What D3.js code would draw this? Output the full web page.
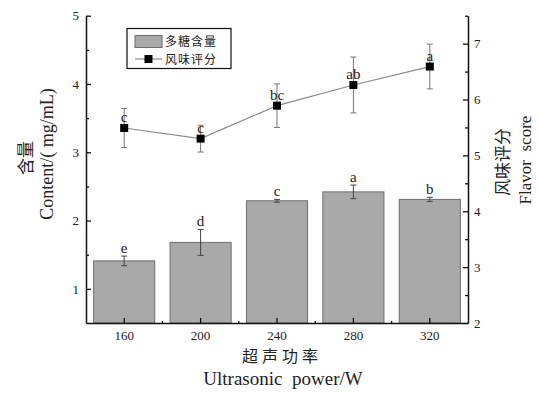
<!DOCTYPE html>
<html>
<head>
<meta charset="utf-8">
<script src="https://d3js.org/d3.v7.min.js"></script>
<style>
  body { margin: 0; background: #fff; }
</style>
</head>
<body>
<div id="chart"></div>
<script>
// data
const powers = ["160", "200", "240", "280", "320"];
const content = [1.41, 1.68, 2.29, 2.42, 2.31];
const contentErr = [0.07, 0.19, 0.02, 0.10, 0.03];
const contentLetters = ["e", "d", "c", "a", "b"];
const flavor = [5.49, 5.30, 5.89, 6.26, 6.59];
const flavorErr = [0.35, 0.24, 0.39, 0.50, 0.40];
const flavorLetters = ["c", "c", "bc", "ab", "a"];
const leftTicks = [1, 2, 3, 4, 5];
const rightTicks = [2, 3, 4, 5, 6, 7];

const serif = "'Liberation Serif', 'Times New Roman', 'DejaVu Serif', serif";
const cjk = "'Noto Sans CJK SC', sans-serif";

const width = 539, height = 393;
const margin = { left: 86, right: 71, top: 15.7, bottom: 70 };
const x0 = margin.left, x1 = width - margin.right;
const y0 = height - margin.bottom, y1 = margin.top;

const svg = d3.select("#chart").append("svg")
    .attr("width", width)
    .attr("height", height)
    .attr("font-family", serif);

const x = d3.scaleBand().domain(powers).range([x0, x1]).paddingInner(0.2).paddingOuter(0.1);
const xc = d3.scaleBand().domain(powers).range([x0, x1]);
const yL = d3.scaleLinear().domain([0.5, 5]).range([y0, y1]);
const yR = d3.scaleLinear().domain([2, 7.5]).range([y0, y1]);

const axisColor = "#111";

// bars
svg.selectAll("rect.bar")
    .data(powers)
    .enter()
    .append("rect")
    .attr("class", "bar")
    .attr("x", d => x(d))
    .attr("width", x.bandwidth())
    .attr("y", (d, i) => yL(content[i]))
    .attr("height", (d, i) => y0 - yL(content[i]))
    .attr("fill", "#a9a9a9")
    .attr("stroke", "#6e6e6e")
    .attr("stroke-width", 1);

// error bars helper
function errorBars(cls, yScale, vals, errs, color) {
    const g = svg.append("g").attr("class", cls).attr("stroke", color).attr("stroke-width", 1);
    powers.forEach((p, i) => {
        const cx = xc(p) + xc.bandwidth() / 2;
        const top = yScale(vals[i] + errs[i]), bot = yScale(vals[i] - errs[i]);
        g.append("line").attr("x1", cx).attr("x2", cx).attr("y1", top).attr("y2", bot);
        g.append("line").attr("x1", cx - 3).attr("x2", cx + 3).attr("y1", top).attr("y2", top);
        g.append("line").attr("x1", cx - 3).attr("x2", cx + 3).attr("y1", bot).attr("y2", bot);
    });
}
errorBars("bar-err", yL, content, contentErr, "#444");

// bar letters
svg.selectAll("text.bar-lab")
    .data(powers)
    .enter()
    .append("text")
    .attr("class", "bar-lab")
    .attr("x", d => xc(d) + xc.bandwidth() / 2)
    .attr("y", (d, i) => yL(content[i] + contentErr[i]) - 3)
    .attr("text-anchor", "middle")
    .attr("font-size", 15)
    .attr("fill", "#222")
    .text((d, i) => contentLetters[i]);

// flavor line
const line = d3.line()
    .x(d => xc(d) + xc.bandwidth() / 2)
    .y((d, i) => yR(flavor[i]));
svg.append("path")
    .datum(powers)
    .attr("d", line)
    .attr("fill", "none")
    .attr("stroke", "#8a8a8a")
    .attr("stroke-width", 1.2);

errorBars("line-err", yR, flavor, flavorErr, "#777");

svg.selectAll("rect.mark")
    .data(powers)
    .enter()
    .append("rect")
    .attr("class", "mark")
    .attr("x", d => xc(d) + xc.bandwidth() / 2 - 4)
    .attr("y", (d, i) => yR(flavor[i]) - 4)
    .attr("width", 8)
    .attr("height", 8)
    .attr("fill", "#000");

svg.selectAll("text.line-lab")
    .data(powers)
    .enter()
    .append("text")
    .attr("class", "line-lab")
    .attr("x", d => xc(d) + xc.bandwidth() / 2)
    .attr("y", (d, i) => yR(flavor[i]) - 6)
    .attr("text-anchor", "middle")
    .attr("font-size", 15)
    .attr("fill", "#222")
    .text((d, i) => flavorLetters[i]);

// axes
function styleAxis(g) {
    g.attr("font-family", serif);
    g.select(".domain").attr("stroke", axisColor).attr("stroke-width", 1.5);
    g.selectAll(".tick line").attr("stroke", axisColor).attr("stroke-width", 1.3);
    g.selectAll(".tick text").attr("font-size", 13).attr("fill", "#222");
}

const leftAxis = svg.append("g")
    .attr("transform", `translate(${x0},0)`)
    .call(d3.axisLeft(yL).tickValues(leftTicks).tickFormat(d3.format("d"))
        .tickSizeInner(-5).tickSizeOuter(0).tickPadding(7));
styleAxis(leftAxis);
svg.append("g")
    .attr("transform", `translate(${x0},0)`)
    .call(d3.axisLeft(yL).tickValues([1.5, 2.5, 3.5, 4.5]).tickSize(-3).tickFormat(""))
    .call(g => g.select(".domain").remove())
    .call(g => g.selectAll("line").attr("stroke", axisColor).attr("stroke-width", 1.3));

const rightAxis = svg.append("g")
    .attr("transform", `translate(${x1},0)`)
    .call(d3.axisRight(yR).tickValues(rightTicks).tickFormat(d3.format("d"))
        .tickSizeInner(-5).tickSizeOuter(0).tickPadding(6));
styleAxis(rightAxis);
svg.append("g")
    .attr("transform", `translate(${x1},0)`)
    .call(d3.axisRight(yR).tickValues([2.5, 3.5, 4.5, 5.5, 6.5, 7.5]).tickSize(-3).tickFormat(""))
    .call(g => g.select(".domain").remove())
    .call(g => g.selectAll("line").attr("stroke", axisColor).attr("stroke-width", 1.3));

const bottomAxis = svg.append("g")
    .attr("transform", `translate(0,${y0})`)
    .call(d3.axisBottom(xc).tickSizeInner(-5).tickSizeOuter(0).tickPadding(8));
styleAxis(bottomAxis);
// little ticks between categories
svg.append("g")
    .selectAll("line")
    .data(powers.slice(1))
    .enter()
    .append("line")
    .attr("x1", d => xc(d))
    .attr("x2", d => xc(d))
    .attr("y1", y0)
    .attr("y2", y0 - 2)
    .attr("stroke", axisColor)
    .attr("stroke-width", 1.3);

// axis titles
svg.append("text")
    .attr("font-family", cjk)
    .attr("transform", `translate(32,158) rotate(-90)`)
    .attr("text-anchor", "middle")
    .attr("font-size", 17)
    .attr("fill", "#222")
    .text("含量");
svg.append("text")
    .attr("transform", `translate(53,154) rotate(-90)`)
    .attr("text-anchor", "middle")
    .attr("font-size", 18)
    .attr("fill", "#222")
    .style("white-space", "pre")
    .text("Content/( mg/mL)");

svg.append("text")
    .attr("font-family", cjk)
    .attr("transform", `translate(509,162) rotate(-90)`)
    .attr("text-anchor", "middle")
    .attr("font-size", 17)
    .attr("fill", "#222")
    .text("风味评分");
svg.append("text")
    .attr("transform", `translate(531,160) rotate(-90)`)
    .attr("text-anchor", "middle")
    .attr("font-size", 17)
    .attr("fill", "#222")
    .style("white-space", "pre")
    .text("Flavor  score");

svg.append("text")
    .attr("font-family", cjk)
    .attr("x", 282)
    .attr("y", 362)
    .attr("text-anchor", "middle")
    .attr("font-size", 16)
    .attr("letter-spacing", 4)
    .attr("fill", "#222")
    .text("超声功率");
svg.append("text")
    .attr("x", 283)
    .attr("y", 385)
    .attr("text-anchor", "middle")
    .attr("font-size", 19)
    .attr("fill", "#222")
    .style("white-space", "pre")
    .text("Ultrasonic  power/W");

// legend
const lg = svg.append("g").attr("transform", "translate(127,28.5)");
lg.append("rect").attr("width", 104).attr("height", 40)
    .attr("fill", "#fff").attr("stroke", "#111").attr("stroke-width", 1.2);
lg.append("rect").attr("x", 8).attr("y", 7).attr("width", 27).attr("height", 12)
    .attr("fill", "#a9a9a9").attr("stroke", "#6e6e6e");
lg.append("text").attr("font-family", cjk).attr("x", 38).attr("y", 17.5)
    .attr("font-size", 12).attr("letter-spacing", 1).attr("fill", "#222").text("多糖含量");
lg.append("line").attr("x1", 8).attr("x2", 35).attr("y1", 30.5).attr("y2", 30.5)
    .attr("stroke", "#8a8a8a").attr("stroke-width", 1.2);
lg.append("rect").attr("x", 17.5).attr("y", 26.5).attr("width", 8).attr("height", 8).attr("fill", "#000");
lg.append("text").attr("font-family", cjk).attr("x", 38).attr("y", 35)
    .attr("font-size", 12).attr("letter-spacing", 1).attr("fill", "#222").text("风味评分");
</script>
</body>
</html>
